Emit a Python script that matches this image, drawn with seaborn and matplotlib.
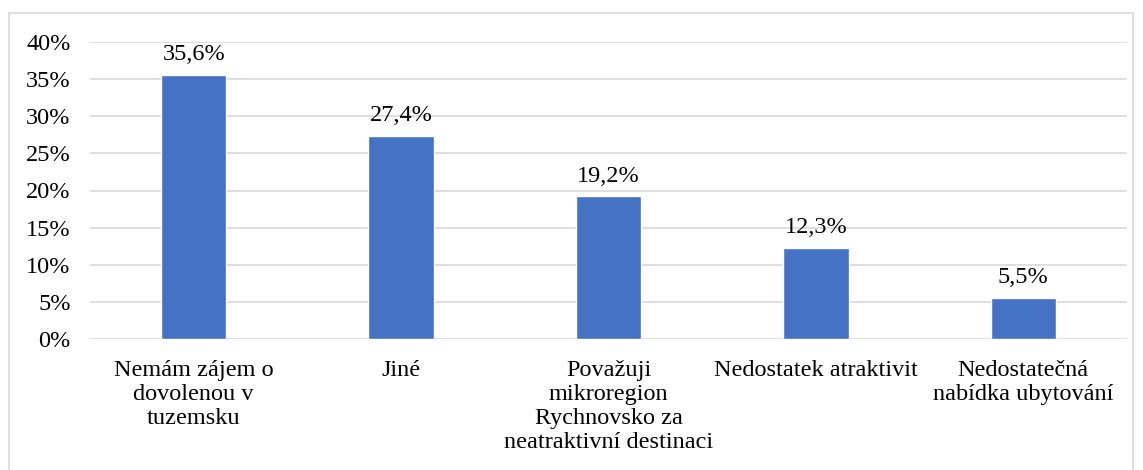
import matplotlib
matplotlib.use("Agg")
import matplotlib.pyplot as plt
import seaborn as sns
import pandas as pd
from matplotlib.patches import Rectangle

categories = ["Nemám zájem o\ndovolenou v\ntuzemsku", "Jiné",
              "Považuji\nmikroregion\nRychnovsko za\nneatraktivní destinaci",
              "Nedostatek atraktivit", "Nedostatečná\nnabídka ubytování"]
values = [35.6, 27.4, 19.2, 12.3, 5.5]
value_labels = ["35,6%", "27,4%", "19,2%", "12,3%", "5,5%"]
yticks = [0, 5, 10, 15, 20, 25, 30, 35, 40]

sns.set_theme(style="white")
plt.rcParams['font.family'] = ['Liberation Serif', 'DejaVu Serif']

FS = 17.5

fig = plt.figure(figsize=(11.43, 4.70), dpi=100)
ax = fig.add_axes([90/1143, 1-339/470, (1127-90)/1143, (339-42)/470])

df = pd.DataFrame({"cat": categories, "val": values})
sns.barplot(data=df, x="cat", y="val", color="#4472C4", width=0.315, ax=ax, saturation=1)

ax.set_ylim(0, 40)
ax.set_xlim(-0.5, 4.5)
ax.set_yticks(yticks)
ax.set_yticklabels([f"{t}%" for t in yticks], fontsize=FS, color="#000000")
ax.tick_params(axis='x', labelsize=FS, colors="#000000", length=0, pad=15)
ax.tick_params(axis='y', length=0, pad=14)
ax.set_xlabel("")
ax.set_ylabel("")
ax.grid(axis='y', color="#d9d9d9", linewidth=1.2)
ax.set_axisbelow(True)
for s in ax.spines.values():
    s.set_visible(False)
for lbl in ax.get_xticklabels():
    lbl.set_linespacing(1.2)

for i, (v, t) in enumerate(zip(values, value_labels)):
    ax.annotate(t, (i, v), xytext=(0, 7), textcoords="offset points",
                ha="center", va="bottom", fontsize=FS, color="#000000")

fig.patches.append(Rectangle((9/1143, -0.1), (1133-9)/1143, 1.1 - 13/470,
                             transform=fig.transFigure, fill=False,
                             edgecolor="#d9d9d9", linewidth=1.2))

fig.savefig("out.png", dpi=100)
